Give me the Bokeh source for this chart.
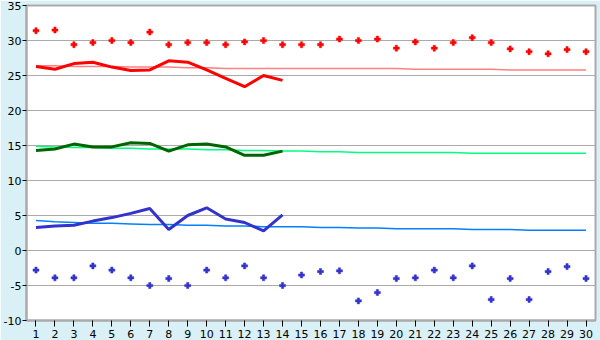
from bokeh.plotting import figure
from bokeh.models import FixedTicker, Range1d
from bokeh.embed import file_html
from bokeh.resources import INLINE

days = list(range(1, 31))
obs_days = list(range(1, 15))

max_extreme = [31.4, 31.5, 29.4, 29.7, 30.0, 29.7, 31.2, 29.4, 29.7, 29.7,
               29.4, 29.8, 30.0, 29.4, 29.4, 29.4, 30.2, 30.0, 30.2, 28.9,
               29.8, 28.9, 29.7, 30.4, 29.7, 28.8, 28.4, 28.1, 28.7, 28.4]
min_extreme = [-2.8, -3.9, -3.9, -2.2, -2.8, -3.9, -5.0, -4.0, -5.0, -2.8,
               -3.9, -2.2, -3.9, -5.0, -3.5, -3.0, -2.9, -7.2, -6.0, -4.0,
               -3.9, -2.8, -3.9, -2.2, -7.0, -4.0, -7.0, -3.0, -2.3, -4.0]
max_obs = [26.3, 25.9, 26.7, 26.9, 26.2, 25.7, 25.8, 27.1, 26.9, 25.8,
           24.6, 23.4, 25.0, 24.3]
mean_obs = [14.3, 14.5, 15.2, 14.8, 14.8, 15.4, 15.3, 14.2, 15.1, 15.2,
            14.8, 13.6, 13.6, 14.2]
min_obs = [3.3, 3.5, 3.6, 4.2, 4.7, 5.3, 6.0, 3.0, 5.0, 6.1,
           4.5, 4.0, 2.8, 5.1]
max_normal = [26.4, 26.4, 26.3, 26.3, 26.3, 26.2, 26.2, 26.2, 26.1, 26.1,
              26.0, 26.0, 26.0, 26.0, 26.0, 26.0, 26.0, 26.0, 26.0, 26.0,
              25.9, 25.9, 25.9, 25.9, 25.9, 25.8, 25.8, 25.8, 25.8, 25.8]
mean_normal = [14.9, 14.8, 14.7, 14.7, 14.6, 14.6, 14.5, 14.5, 14.5, 14.4,
               14.4, 14.3, 14.3, 14.2, 14.2, 14.1, 14.1, 14.0, 14.0, 14.0,
               14.0, 14.0, 14.0, 13.9, 13.9, 13.9, 13.9, 13.9, 13.9, 13.9]
min_normal = [4.3, 4.1, 4.0, 3.9, 3.9, 3.8, 3.7, 3.7, 3.6, 3.6,
              3.5, 3.5, 3.4, 3.4, 3.4, 3.3, 3.3, 3.2, 3.2, 3.1,
              3.1, 3.1, 3.1, 3.0, 3.0, 3.0, 2.9, 2.9, 2.9, 2.9]
y_ticks = [-10, -5, 0, 5, 10, 15, 20, 25, 30, 35]
y_tick_labels = ["-10", "-5", "0", "5", "10", "15", "20", "25", "30", "35"]

BG = "#d9f0f6"
GRID = "#aaaaaa"
FONT = "DejaVu Sans"

p = figure(width=600, height=340, output_backend="svg", toolbar_location=None,
           x_range=Range1d(0.5, 30.5), y_range=Range1d(-10, 35),
           min_border_left=26, min_border_right=5, min_border_top=5,
           min_border_bottom=20, background_fill_color="white",
           border_fill_color=BG, outline_line_color=GRID, outline_line_width=2)

p.xgrid.grid_line_color = None
p.ygrid.grid_line_color = GRID
p.ygrid.grid_line_width = 1

for ax in (p.xaxis[0], p.yaxis[0]):
    ax.axis_line_color = GRID
    ax.axis_line_width = 2
    ax.major_tick_line_color = "black"
    ax.minor_tick_line_color = None
    ax.major_tick_in = 0
    ax.major_label_text_font = FONT
    ax.major_label_text_font_size = "11px"
    ax.major_label_text_color = "black"

p.xaxis.ticker = FixedTicker(ticks=days)
p.xaxis.major_tick_out = 6
p.xaxis.major_label_standoff = 3

p.yaxis.ticker = FixedTicker(ticks=y_ticks)
p.yaxis.major_tick_out = 4
p.yaxis.major_label_standoff = 1
p.yaxis.major_label_overrides = dict(zip(y_ticks, y_tick_labels))

# normals
p.line(days, max_normal, line_color="#ff8080", line_width=1.5)
p.line(days, mean_normal, line_color="#00ff80", line_width=1.5)
p.line(days, min_normal, line_color="#0080ff", line_width=1.5)

# observed
p.line(obs_days, max_obs, line_color="#ff0000", line_width=3)
p.line(obs_days, mean_obs, line_color="#006400", line_width=3)
p.line(obs_days, min_obs, line_color="#3333cc", line_width=3)

# extremes
p.scatter(days, max_extreme, marker="plus", size=6, fill_color="#ff0000",
          line_color="#ff0000", line_width=0.5)
p.scatter(days, min_extreme, marker="plus", size=6, fill_color="#3333cc",
          line_color="#3333cc", line_width=0.5)

open("out.html", "w").write(file_html(p, INLINE))
